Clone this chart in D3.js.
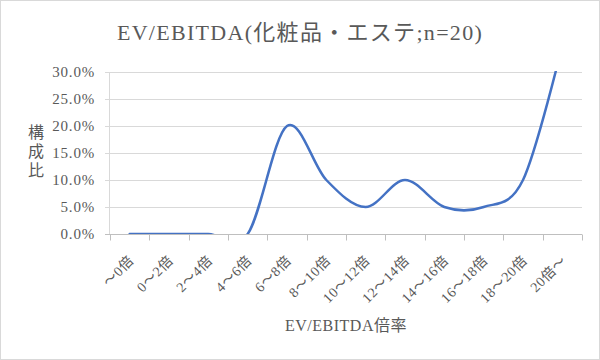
<!DOCTYPE html>
<html lang="ja">
<head>
<meta charset="UTF-8">
<script src="https://d3js.org/d3.v7.min.js"></script>
<style>
  body { margin: 0; background: #fff; }
  svg { display: block; }
  text { font-family: "Liberation Serif", "DejaVu Serif", "Noto Sans CJK JP", serif; fill: #595959; }
</style>
</head>
<body>
<svg id="chart" width="600" height="360"></svg>
<script>
  // categories and values (share of companies, n=20)
  const categories = ["～0倍", "0～2倍", "2～4倍", "4～6倍", "6～8倍", "8～10倍", "10～12倍",
                      "12～14倍", "14～16倍", "16～18倍", "18～20倍", "20倍～"];
  const shares = [0, 0, 0, 0, 0.20, 0.10, 0.05, 0.10, 0.05, 0.05, 0.10, 0.35];
  const yTicks = [0, 0.05, 0.10, 0.15, 0.20, 0.25, 0.30];

  const svg = d3.select("svg#chart");
  const width = +svg.attr("width");
  const height = +svg.attr("height");
  const margin = {top: 72, right: 18, bottom: 126, left: 110};
  const chartWidth = width - margin.left - margin.right;
  const chartHeight = height - margin.top - margin.bottom;

  // frame
  svg.append("rect")
    .attr("x", 0.5).attr("y", 0.5)
    .attr("width", width - 1).attr("height", height - 1)
    .attr("fill", "#fff").attr("stroke", "#d9d9d9");

  const xScale = d3.scaleBand().domain(categories).range([0, chartWidth]);
  const yScale = d3.scaleLinear().domain([0, 0.30]).range([chartHeight, 0]);

  const chartArea = svg.append("g")
    .attr("transform", `translate(${margin.left},${margin.top})`);

  // gridlines
  chartArea.append("g")
    .selectAll("line")
    .data(yTicks)
    .join("line")
    .attr("x1", -5).attr("x2", chartWidth)
    .attr("y1", d => Math.round(yScale(d)) + 0.5)
    .attr("y2", d => Math.round(yScale(d)) + 0.5)
    .attr("stroke", d => d === 0 ? "#bfbfbf" : "#d9d9d9").attr("stroke-width", 1);

  // vertical axis line
  chartArea.append("line")
    .attr("x1", -0.5).attr("x2", -0.5)
    .attr("y1", 0).attr("y2", chartHeight)
    .attr("stroke", "#d9d9d9");

  // y axis labels
  const yAxis = d3.axisLeft(yScale)
    .tickValues(yTicks)
    .tickFormat(d3.format(".1%"))
    .tickSize(0).tickPadding(15);
  const yAxisG = chartArea.append("g").call(yAxis);
  yAxisG.select(".domain").remove();
  yAxisG.selectAll("text")
    .style("font-size", "15px")
    .style("letter-spacing", "0.8px")
    .style("font-family", "'Liberation Serif', serif")
    .style("fill", "#595959");

  // x axis
  const xAxisG = chartArea.append("g")
    .attr("transform", `translate(0,${Math.round(chartHeight) + 0.5})`);
  xAxisG.selectAll("line.tick")
    .data(d3.range(categories.length + 1))
    .join("line")
    .attr("class", "tick")
    .attr("x1", i => Math.round(i * xScale.step()) + 0.5)
    .attr("x2", i => Math.round(i * xScale.step()) + 0.5)
    .attr("y1", 0).attr("y2", 6)
    .attr("stroke", "#bfbfbf");
  xAxisG.selectAll("text.cat")
    .data(categories)
    .join("text")
    .attr("class", "cat")
    .attr("transform", d => `translate(${xScale(d) + xScale.bandwidth() / 2 + 5},${27}) rotate(-45)`)
    .attr("text-anchor", "end")
    .style("font-size", "14px")
    .style("letter-spacing", "0.6px")
    .text(d => d);

  // line
  svg.append("clipPath").attr("id", "plotClip")
    .append("rect").attr("x", 0).attr("y", -1)
    .attr("width", chartWidth).attr("height", chartHeight + 1);

  const line = d3.line()
    .x((d, i) => xScale(categories[i]) + xScale.bandwidth() / 2)
    .y(d => yScale(d))
    .curve(d3.curveCardinal.tension(0));

  chartArea.append("path")
    .datum(shares)
    .attr("clip-path", "url(#plotClip)")
    .attr("d", line)
    .attr("fill", "none")
    .attr("stroke", "#4472c4")
    .attr("stroke-width", 2.5)
    .attr("stroke-linecap", "round");

  // titles
  svg.append("text")
    .attr("x", 300).attr("y", 40)
    .attr("text-anchor", "middle")
    .style("font-size", "22px")
    .style("letter-spacing", "1.3px")
    .text("EV/EBITDA(化粧品・エステ;n=20)");

  svg.append("text")
    .attr("x", 346).attr("y", 331)
    .attr("text-anchor", "middle")
    .style("font-size", "16px")
    .style("letter-spacing", "0.5px")
    .text("EV/EBITDA倍率");

  const yTitle = svg.append("text")
    .attr("text-anchor", "middle")
    .style("font-size", "16px");
  ["構", "成", "比"].forEach((ch, i) => {
    yTitle.append("tspan").attr("x", 36).attr("y", 138 + i * 19).text(ch);
  });
</script>
</body>
</html>
